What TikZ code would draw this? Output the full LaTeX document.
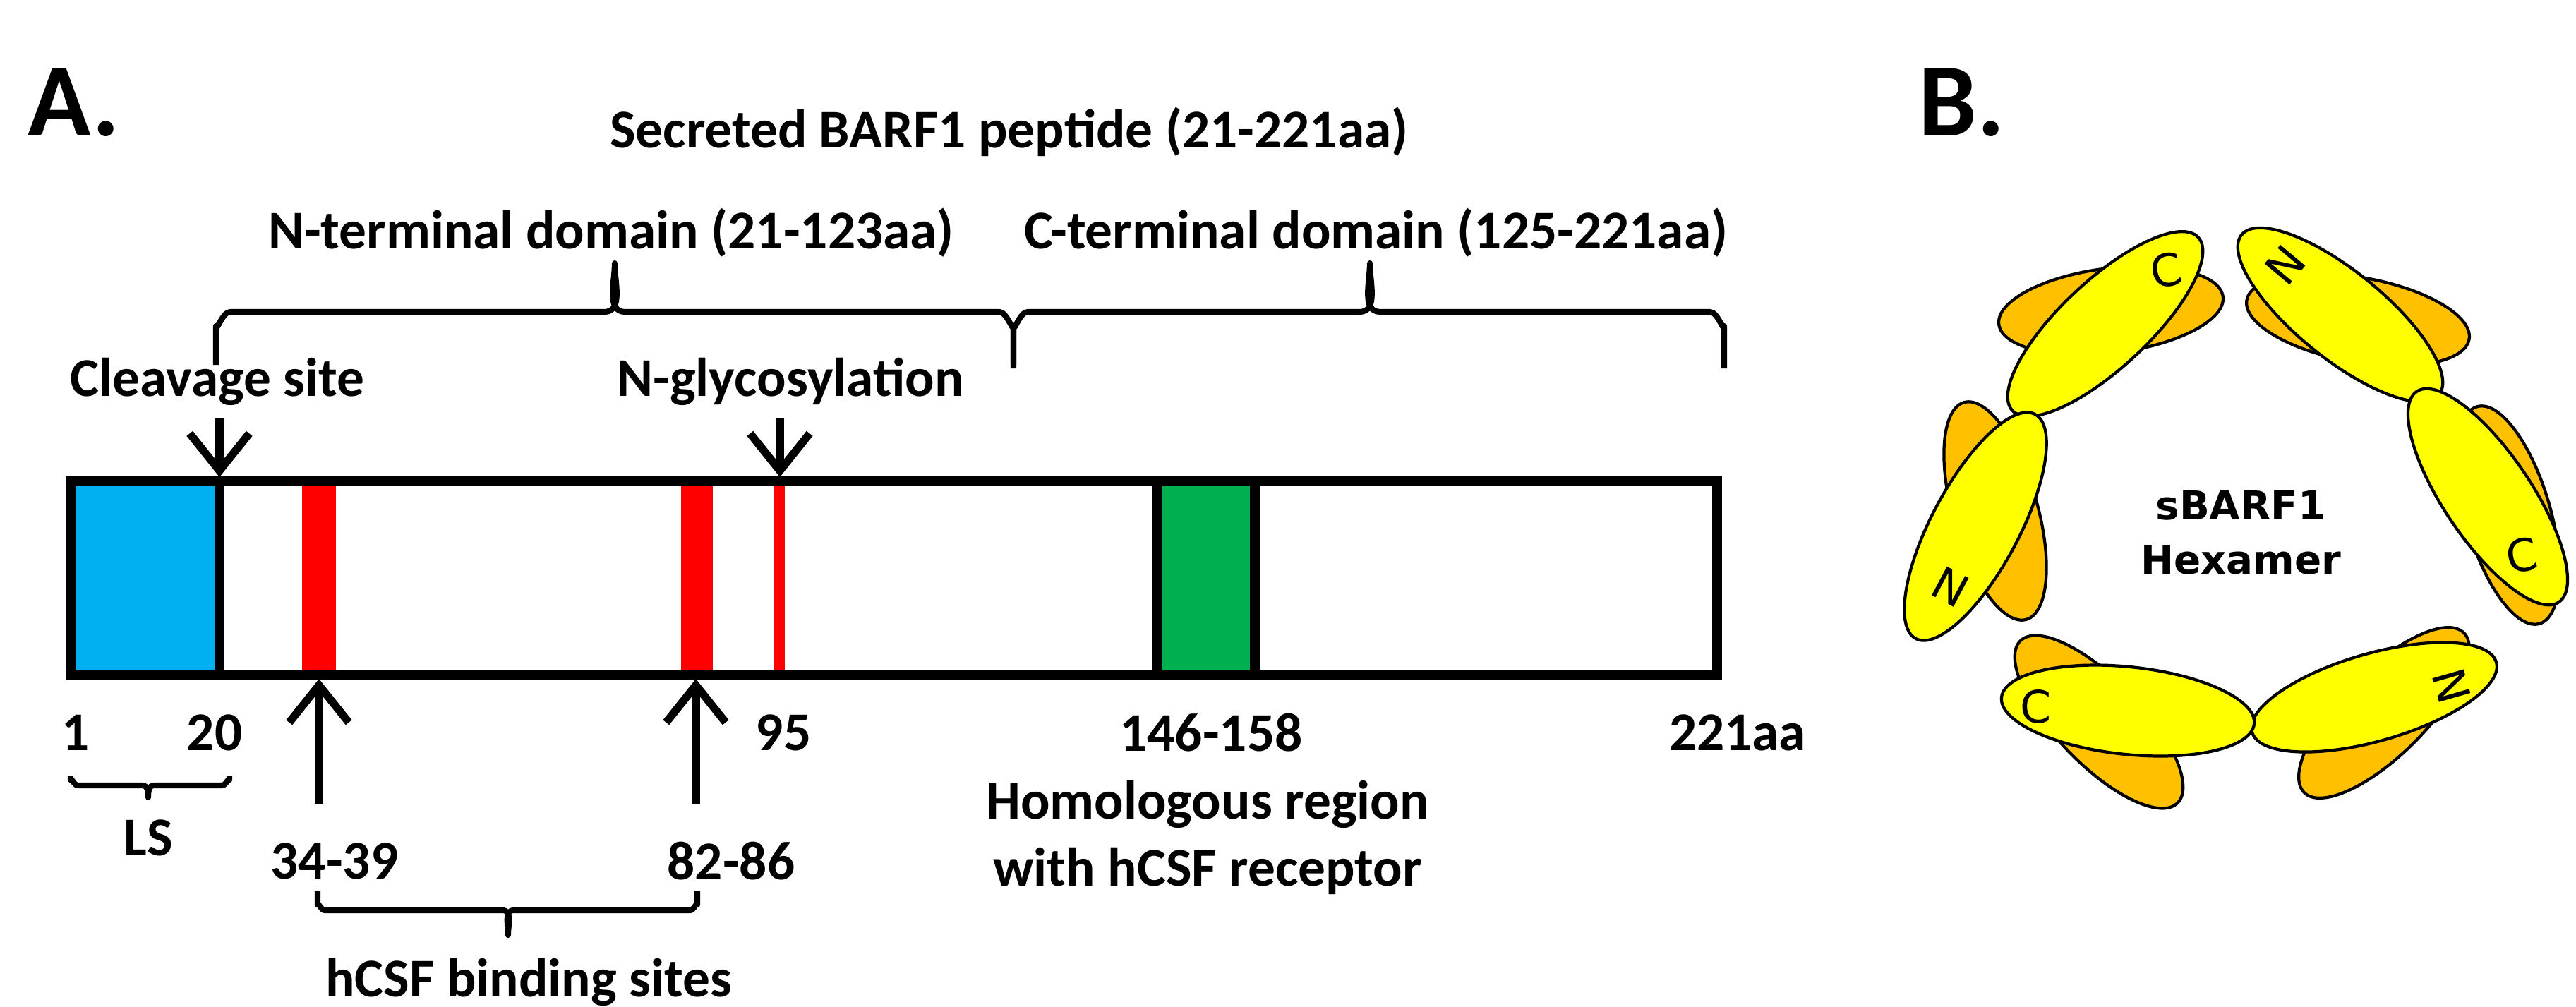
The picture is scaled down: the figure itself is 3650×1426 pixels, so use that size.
\documentclass[tikz,border=0pt]{standalone}
\usepackage{fontspec}
\setmainfont{Carlito}
\newfontfamily\hexfont{DejaVu Sans}
\usetikzlibrary{arrows.meta,positioning}
\definecolor{lsblue}{RGB}{0,176,240}
\definecolor{sitered}{RGB}{255,0,0}
\definecolor{homgreen}{RGB}{0,176,80}
\definecolor{subyellow}{RGB}{255,255,0}
\definecolor{suborange}{RGB}{255,192,0}
\tikzset{
  lbl/.style={font=\fontsize{22}{27}\selectfont\bfseries, inner sep=0pt},
  panel/.style={font=\fontsize{42}{46}\selectfont\bfseries, inner sep=0pt},
  brc/.style={line width=2.3pt, line join=round},
  pointer/.style={line width=3.2pt, -{Straight Barb[length=15pt,width=24pt,line width=3.2pt]}},
  yellowsub/.style={draw, line width=1.2pt, fill=subyellow},
  orangesub/.style={draw, line width=1.2pt, fill=suborange},
  term/.style={font=\hexfont\fontsize{18}{20}\selectfont, inner sep=0pt}
}
% brace opening down: x-left, x-right, x-tip, y-bar, y-legs, y-tip
\newcommand{\domainbrace}[6]{%
  \draw[brc] (#1,#5) -- (#1,#4+20) to[out=-90,in=180] (#1+20,#4) -- (#3-15,#4)
    to[out=0,in=-90] (#3,#6) to[out=-90,in=180] (#3+15,#4) -- (#2-20,#4)
    to[out=0,in=-90] (#2,#4+20) -- (#2,#5);}
% brace opening up
\newcommand{\sitebrace}[6]{%
  \draw[brc] (#1,#5) -- (#1,#4-8) to[out=90,in=180] (#1+10,#4) -- (#3-8,#4)
    to[out=0,in=90] (#3,#6) to[out=90,in=180] (#3+8,#4) -- (#2-10,#4)
    to[out=0,in=90] (#2,#4-8) -- (#2,#5);}
\begin{document}
\begin{tikzpicture}[x=0.01cm, y=-0.01cm]
\useasboundingbox (0,0) rectangle (3650,1426);
% panel A
\node[panel] (pA) at (105,145) {A.};
\node[lbl] (secr) at (1430,187) {Secreted BARF1 peptide (21-221aa)};
\node[lbl] (nterm) at (866,330) {N-terminal domain (21-123aa)};
\node[lbl] (cterm) at (1950,330) {C-terminal domain (125-221aa)};
\domainbrace{306}{1436}{871}{442}{517}{373}
\domainbrace{1436}{2443}{1941}{442}{522}{373}
% protein bar
\fill[lsblue] (100,681) rectangle (311,957);
\fill[sitered] (428,681) rectangle (476,957);
\fill[sitered] (965,681) rectangle (1010,957);
\fill[sitered] (1097,681) rectangle (1112,957);
\draw[line width=4pt, fill=homgreen] (1639,681) rectangle (1778,957);
\draw[line width=4pt] (311,681) -- (311,957);
\draw[line width=4pt] (100,681) rectangle (2433,957);
% sites above
\node[lbl] (cleave) at (308,541) {Cleavage site};
\node[lbl] (nglyc) at (1120,541) {N-glycosylation};
\coordinate (cleavetop) at (311,593);
\coordinate (cleavebar) at (311,676);
\coordinate (nglyctop) at (1105,593);
\coordinate (nglycbar) at (1105,676);
\draw[pointer] (cleavetop) -- (cleavebar);
\draw[pointer] (nglyctop) -- (nglycbar);
% positions below
\node[lbl] (p1) at (107,1038) {1};
\node[lbl] (p20) at (304,1038) {20};
\node[lbl] (p95) at (1110,1038) {95};
\node[lbl] (p146) at (1716,1038) {146-158};
\node[lbl] (p221) at (2462,1038) {221aa};
\node[lbl, align=center] (homol) at (1711,1187) {Homologous region\\with hCSF receptor};
\coordinate (s1low) at (452,1139);
\coordinate (s1bar) at (452,962);
\coordinate (s2low) at (986,1139);
\coordinate (s2bar) at (986,962);
\draw[pointer] (s1low) -- (s1bar);
\draw[pointer] (s2low) -- (s2bar);
\node[lbl] (s1) at (474,1220) {34-39};
\node[lbl] (s2) at (1036,1220) {82-86};
\sitebrace{100}{325}{210}{1113}{1099}{1130}
\node[lbl] (ls) at (210,1187) {LS};
\sitebrace{450}{988}{720}{1290}{1263}{1325}
\node[lbl] (hcsf) at (749,1392) {hCSF binding sites};
% panel B
\node[panel] (pB) at (2780,145) {B.};
\foreach \cx/\cy/\ang in {2991/440/7, 3341/453/-10, 3554/730/-74,
    3378/1010/45, 2974/1023/-46, 2827/724/106}
  \draw[orangesub, shift={(\cx,\cy)}, rotate=\ang] (0,0) ellipse (160 and 60);
\foreach \cx/\cy/\ang in {2983/459/43, 3316/446/-39, 3525/704/-56,
    3364/988/16, 3015/1007/-6, 2799/746/62}
  \draw[yellowsub, shift={(\cx,\cy)}, rotate=\ang] (0,0) ellipse (180 and 62);
\node[term, rotate=10] (c1) at (3069,383) {C};
\node[term, rotate=50] (n1) at (3238,376) {N};
\node[term, rotate=10] (c2) at (3573,787) {C};
\node[term, rotate=106] (n2) at (3474,972) {N};
\node[term] (c3) at (2885,1001) {C};
\node[term, rotate=152] (n3) at (2764,832) {N};
\node[align=center, inner sep=0pt, font=\hexfont\fontsize{16}{22}\selectfont\bfseries] (hexa) at (3175,755) {sBARF1\\Hexamer};
\end{tikzpicture}
\end{document}
